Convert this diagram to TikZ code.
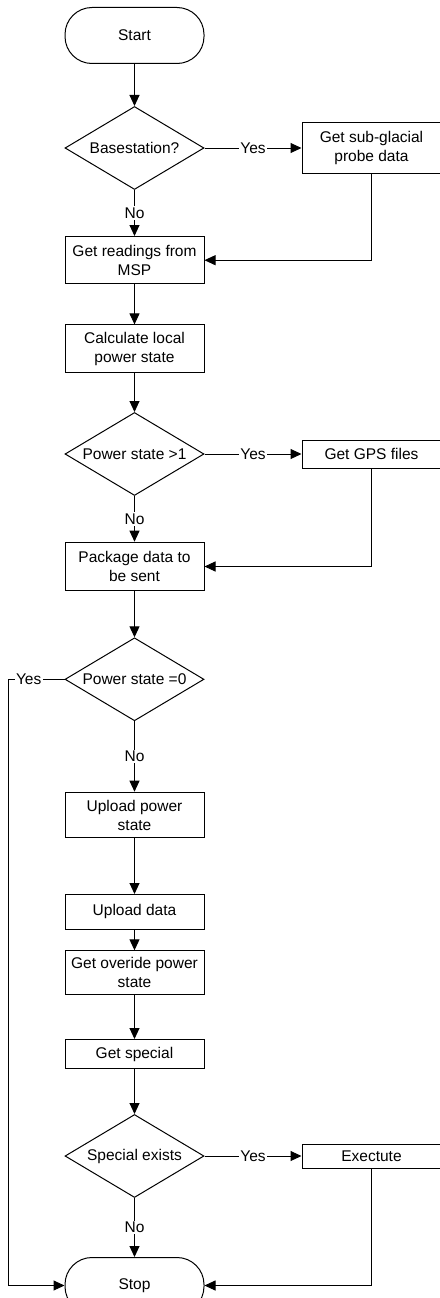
\documentclass[tikz,border=0pt]{standalone}
\usepackage{fontspec}
\setmainfont{Liberation Sans}
\usepackage{tikz}
\usetikzlibrary{arrows.meta, positioning, shapes.geometric}

\begin{document}
\begin{tikzpicture}[
  font=\fontsize{15.5pt}{19pt}\selectfont,
  line width=1pt,
  term/.style={rectangle, rounded corners=27pt, draw, minimum width=139pt,
               minimum height=56pt, align=center},
  box/.style={rectangle, draw, minimum width=139pt, align=center, inner sep=2pt},
  dec/.style={diamond, draw, aspect=1.67, minimum width=139pt, minimum height=83pt,
              inner sep=0pt},
  lbl/.style={fill=white, inner sep=1.5pt},
  ar/.style={-{Triangle[length=11pt, width=10pt]}}]
\path[use as bounding box, fill=white] (0,0) rectangle (439pt,-1298pt);
\node[term] (start) at (134.5pt,-35.5pt) {Start};
\node[dec, below=42pt of start] (bs) {Basestation?};
\node[box, right=97pt of bs, minimum height=50.6pt] (sub) {Get sub-glacial\\probe data};
\node[box, below=46pt of bs, minimum height=47.4pt] (read) {Get readings from\\MSP};
\node[box, below=40pt of read, minimum height=47.6pt] (calc) {Calculate local\\power state};
\node[dec, below=39pt of calc] (p1) {Power state >1};
\node[box, right=97pt of p1, minimum height=28pt] (gps) {Get GPS files};
\node[box, below=45.7pt of p1, minimum height=48.6pt] (pack) {Package data to\\be sent};
\node[dec, below=46pt of pack] (p0) {Power state =0};
\node[box, below=70.4pt of p0, minimum height=45.6pt] (upp) {Upload power\\state};
\node[box, below=55.7pt of upp, minimum height=34.7pt] (upd) {Upload data};
\node[box, below=20.6pt of upd, minimum height=43.4pt] (ovr) {Get overide power\\state};
\node[box, below=44.3pt of ovr, minimum height=29.3pt] (spc) {Get special};
\node[dec, below=44.7pt of spc] (sx) {Special exists};
\node[box, right=97pt of sx, minimum height=24pt] (exe) {Exectute};
\node[term, below=59pt of sx] (stop) {Stop};
\coordinate[left=56pt of p0.west] (yl);
% connectors
\draw[ar] (start)--(bs); \draw[ar] (bs)--node[lbl]{Yes}(sub);
\draw[ar] (bs)--node[lbl]{No}(read); \draw[ar] (sub.south)|-(read.east);
\draw[ar] (read)--(calc); \draw[ar] (calc)--(p1);
\draw[ar] (p1)--node[lbl]{Yes}(gps); \draw[ar] (p1)--node[lbl]{No}(pack);
\draw[ar] (gps.south)|-(pack.east); \draw[ar] (pack)--(p0);
\draw[ar] (p0)--node[lbl]{No}(upp);
\draw[ar] (p0.west)--node[lbl, pos=0.64]{Yes}(yl)|-(stop.west);
\draw[ar] (upp)--(upd); \draw[ar] (upd)--(ovr); \draw[ar] (ovr)--(spc);
\draw[ar] (spc)--(sx); \draw[ar] (sx)--node[lbl]{Yes}(exe);
\draw[ar] (sx)--node[lbl]{No}(stop); \draw[ar] (exe.south)|-(stop.east);
\end{tikzpicture}
\end{document}
